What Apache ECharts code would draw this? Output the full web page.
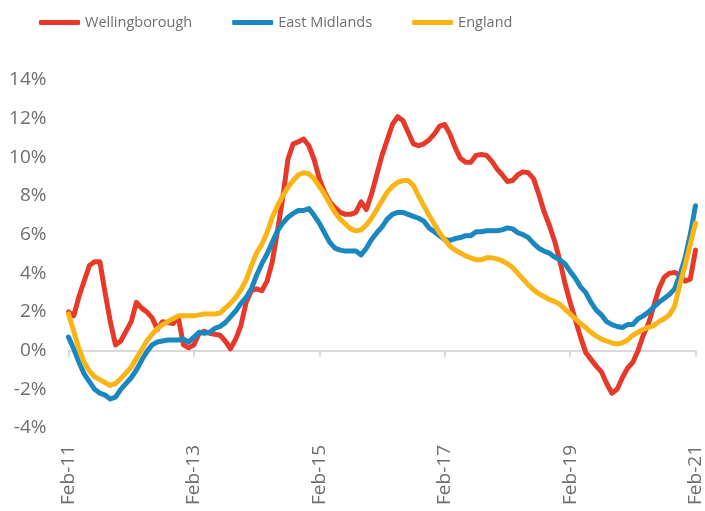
<!DOCTYPE html>
<html>
<head>
<meta charset="utf-8">
<script src="https://cdn.jsdelivr.net/npm/echarts@6/dist/echarts.min.js"></script>
<style>
  html, body { margin: 0; padding: 0; background: #fff; }
  #chart { width: 705px; height: 511px; }
</style>
</head>
<body>
<div id="chart"></div>
<script>
// monthly, Feb-11 .. Feb-21 (121 months)
const monthNames = ["Jan", "Feb", "Mar", "Apr", "May", "Jun", "Jul", "Aug", "Sep", "Oct", "Nov", "Dec"];
const months = [];
for (let y = 11; y <= 21; y++) {
  for (let m = 0; m < 12; m++) {
    if (y === 11 && m < 1) continue;
    if (y === 21 && m > 1) break;
    months.push(monthNames[m] + "-" + y);
  }
}

const yTicks = { min: -4, max: 14, step: 2 };

// % annual change, one row = Feb..Jan
const wellingborough = [
  2.0, 1.8, 2.8, 3.6, 4.4, 4.6, 4.6, 3.0, 1.5, 0.3, 0.5, 1.0,
  1.5, 2.5, 2.2, 2.0, 1.7, 1.1, 1.5, 1.45, 1.4, 1.75, 0.3, 0.15,
  0.3, 0.9, 1.0, 0.9, 0.85, 0.8, 0.5, 0.1, 0.6, 1.3, 2.5, 3.1,
  3.2, 3.1, 3.6, 4.6, 6.2, 7.9, 9.9, 10.7, 10.8, 10.95, 10.6, 9.9,
  8.9, 8.2, 7.7, 7.4, 7.15, 7.05, 7.05, 7.15, 7.7, 7.3, 8.1, 9.1,
  10.1, 10.9, 11.7, 12.1, 11.9, 11.3, 10.7, 10.6, 10.7, 10.9, 11.2, 11.6,
  11.7, 11.2, 10.5, 9.95, 9.75, 9.75, 10.1, 10.15, 10.1, 9.8, 9.4, 9.1,
  8.75, 8.8, 9.1, 9.25, 9.2, 8.9, 8.1, 7.2, 6.5, 5.7, 4.7, 3.5,
  2.5, 1.6, 0.7, -0.1, -0.45, -0.8, -1.1, -1.7, -2.2, -2.0, -1.4, -0.9,
  -0.6, 0.0, 0.8, 1.4, 2.3, 3.2, 3.8, 4.0, 4.05, 3.9, 3.6, 3.7,
  5.2
];

const eastMidlands = [
  0.7, 0.1, -0.6, -1.2, -1.6, -2.0, -2.2, -2.3, -2.5, -2.4, -2.0, -1.7,
  -1.4, -1.0, -0.5, -0.05, 0.3, 0.45, 0.5, 0.55, 0.55, 0.55, 0.6, 0.45,
  0.7, 0.95, 0.9, 0.95, 1.15, 1.25, 1.45, 1.75, 2.05, 2.45, 2.75, 3.2,
  3.9, 4.5, 5.0, 5.6, 6.2, 6.6, 6.9, 7.1, 7.25, 7.25, 7.35, 7.0,
  6.6, 6.1, 5.6, 5.3, 5.2, 5.15, 5.15, 5.15, 4.95, 5.3, 5.75, 6.1,
  6.4, 6.8, 7.05, 7.15, 7.15, 7.05, 6.95, 6.85, 6.7, 6.35, 6.15, 5.95,
  5.75, 5.7, 5.8, 5.85, 5.95, 5.95, 6.15, 6.15, 6.2, 6.2, 6.2, 6.25,
  6.35, 6.3, 6.1, 6.0, 5.85, 5.55, 5.3, 5.15, 5.05, 4.85, 4.7, 4.5,
  4.1, 3.75, 3.3, 3.0, 2.5, 2.1, 1.85, 1.5, 1.35, 1.25, 1.2, 1.35,
  1.35, 1.65, 1.8, 2.0, 2.25, 2.5, 2.7, 2.9, 3.2, 3.9, 4.8, 6.0,
  7.5
];

const england = [
  1.9, 1.0, 0.1, -0.6, -1.05, -1.35, -1.5, -1.65, -1.8, -1.7, -1.45, -1.15,
  -0.85, -0.4, 0.05, 0.5, 0.85, 1.15, 1.35, 1.5, 1.65, 1.8, 1.8, 1.8,
  1.8, 1.85, 1.9, 1.9, 1.9, 1.95, 2.2, 2.45, 2.75, 3.15, 3.65, 4.4,
  5.05, 5.5, 6.1, 6.9, 7.5, 8.0, 8.45, 8.8, 9.1, 9.2, 9.15, 8.9,
  8.5, 8.1, 7.6, 7.15, 6.8, 6.55, 6.3, 6.2, 6.25, 6.5, 6.85, 7.3,
  7.75, 8.2, 8.5, 8.7, 8.8, 8.8, 8.55, 8.0, 7.5, 7.0, 6.55, 6.1,
  5.75, 5.4, 5.2, 5.05, 4.9, 4.8, 4.7, 4.7, 4.8, 4.8, 4.75, 4.65,
  4.5, 4.3, 4.0, 3.7, 3.4, 3.15, 2.95, 2.8, 2.65, 2.55, 2.4, 2.15,
  1.9, 1.65, 1.4, 1.2, 0.95, 0.75, 0.6, 0.5, 0.4, 0.35, 0.4, 0.55,
  0.8, 0.95, 1.1, 1.2, 1.3, 1.5, 1.65, 1.85, 2.3, 3.4, 4.4, 5.5,
  6.6
];

const seriesNames = ["Wellingborough", "East Midlands", "England"];
const colors = ["#E6392A", "#1A87C1", "#FBB416"];

const chart = echarts.init(document.getElementById("chart"));

const textColor = "#6e6e6e";
const font = "Open Sans";

const lineSeries = (name, data, color) => ({
  name: name,
  type: "line",
  data: data,
  symbol: "none",
  smooth: false,
  color: color,
  lineStyle: { width: 5, color: color, cap: "round", join: "round" },
  xAxisIndex: 0,
});

chart.setOption({
  animation: false,
  backgroundColor: "#fff",
  legend: {
    top: 10,
    left: 34,
    icon: "roundRect",
    itemWidth: 41,
    itemHeight: 5,
    itemGap: 40,
    textStyle: { fontFamily: font, fontSize: 14.5, color: textColor },
    data: seriesNames,
  },
  grid: {
    left: 68.5,
    right: 6.5,
    top: 80,
    bottom: 83,
  },
  xAxis: [
    {
      // line at 0% with tick marks
      type: "category",
      data: months,
      boundaryGap: false,
      axisLine: { onZero: true, lineStyle: { color: "#d9d9d9", width: 2 } },
      axisTick: { interval: 23, length: 6, lineStyle: { color: "#d9d9d9", width: 2 } },
      axisLabel: { show: false },
    },
    {
      // labels sit at the bottom of the plot
      type: "category",
      data: months,
      boundaryGap: false,
      position: "bottom",
      axisLine: { show: false, onZero: false },
      axisTick: { show: false },
      axisLabel: {
        interval: 23,
        rotate: 90,
        margin: 17,
        fontFamily: font,
        fontSize: 19,
        color: textColor,
      },
    },
  ],
  yAxis: {
    type: "value",
    min: yTicks.min,
    max: yTicks.max,
    interval: yTicks.step,
    axisLine: { show: false },
    axisTick: { show: false },
    splitLine: { show: false },
    axisLabel: {
      formatter: "{value}%",
      margin: 22,
      fontFamily: font,
      fontSize: 19,
      color: textColor,
    },
  },
  series: [
    lineSeries(seriesNames[0], wellingborough, colors[0]),
    lineSeries(seriesNames[1], eastMidlands, colors[1]),
    lineSeries(seriesNames[2], england, colors[2]),
  ],
});
</script>
</body>
</html>
